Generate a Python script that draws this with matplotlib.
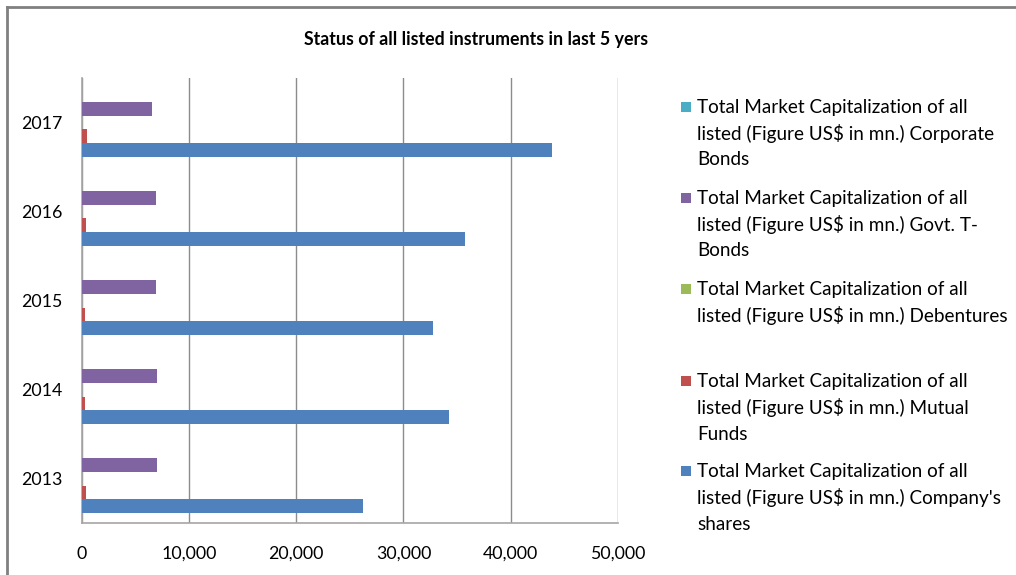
import matplotlib.pyplot as plt
from matplotlib.patches import Rectangle
from matplotlib.lines import Line2D
import numpy as np

plt.rcParams["font.family"] = ["Lato", "DejaVu Sans"]

# waarden (US$ mn.)
years = ["2013", "2014", "2015", "2016", "2017"]
company_shares = [26260, 34220, 32730, 35770, 43890]
mutual_funds = [420, 330, 330, 420, 510]
debentures = [0, 0, 0, 0, 0]
govt_t_bonds = [7070, 7070, 6980, 6980, 6610]
corporate_bonds = [0, 0, 0, 0, 0]

series = [company_shares, mutual_funds, debentures, govt_t_bonds, corporate_bonds]
colors = ["#4F81BD", "#C0504D", "#9BBB59", "#8064A2", "#4BACC6"]
labels = [
    ["Total Market Capitalization of all", "listed (Figure US$ in mn.) Company's", "shares"],
    ["Total Market Capitalization of all", "listed (Figure US$ in mn.) Mutual", "Funds"],
    ["Total Market Capitalization of all", "listed (Figure US$ in mn.) Debentures"],
    ["Total Market Capitalization of all", "listed (Figure US$ in mn.) Govt. T-", "Bonds"],
    ["Total Market Capitalization of all", "listed (Figure US$ in mn.) Corporate", "Bonds"],
]

W, H = 1016, 575
fig = plt.figure(figsize=(W / 100, H / 100), dpi=100)
ax = fig.add_axes([81.5 / W, 1 - 523.3 / H, (618 - 81.5) / W, (523.3 - 78) / H])

# excel stijl: 5 balken per categorie, gap width 150%
h = 1 / 6.5
y = np.arange(len(years))
for i, (vals, c) in enumerate(zip(series, colors)):
    ax.barh(y + (i - 2) * h, vals, height=h, color=c, edgecolor="none", zorder=3)

ax.set_xlim(0, 50000)
ax.set_ylim(-0.5, len(years) - 0.5)
ax.set_xticks(np.arange(0, 50001, 10000))
ax.set_xticklabels([f"{v:,}" for v in range(0, 50001, 10000)])
ax.set_yticks(y)
ax.set_yticklabels(years)
ax.tick_params(axis="x", length=0, pad=16, labelsize=12.8, colors="#000000")
ax.tick_params(axis="y", length=0, pad=14, labelsize=12.8, colors="#000000")
ax.grid(axis="x", color="#8C8C8C", linewidth=1.0, zorder=0)
for s in ["top", "right"]:
    ax.spines[s].set_visible(False)
for s in ["left", "bottom"]:
    ax.spines[s].set_color("#A6A6A6")
    ax.spines[s].set_linewidth(1.2)

fig.text(476 / W, 1 - 40 / H, "Status of all listed instruments in last 5 yers",
         ha="center", va="center", fontsize=12.8, fontweight="bold")

# legenda handmatig, van boven naar beneden
entry_y = [107, 198, 289, 381, 471]
for k, idx in enumerate([4, 3, 2, 1, 0]):
    y0 = entry_y[k]
    fig.patches.append(Rectangle((681 / W, 1 - (y0 + 5) / H), 10 / W, 10 / H,
                                 transform=fig.transFigure, facecolor=colors[idx],
                                 edgecolor="none"))
    for j, line in enumerate(labels[idx]):
        fig.text(697 / W, 1 - (y0 + j * 26.5) / H, line, ha="left", va="center",
                 fontsize=13.6, parse_math=False)

# rand om de grafiek (alleen boven en links zichtbaar)
fig.add_artist(Line2D([7 / W, 1.0], [1 - 7 / H, 1 - 7 / H], transform=fig.transFigure,
                      color="#808080", linewidth=2))
fig.add_artist(Line2D([7 / W, 7 / W], [1 - 7 / H, 0.0], transform=fig.transFigure,
                      color="#808080", linewidth=2))

fig.savefig("out.png", dpi=100)
